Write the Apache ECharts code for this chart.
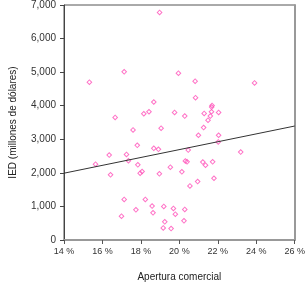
<!DOCTYPE html>
<html>
<head>
<meta charset="utf-8">
<script src="https://cdn.jsdelivr.net/npm/echarts@6/dist/echarts.min.js"></script>
<style>
  html, body { margin: 0; padding: 0; background: #fff; }
  #chart { width: 308px; height: 291px; }
</style>
</head>
<body>
<div id="chart"></div>
<script>
// apertura comercial (%)
var apertura = [15.32, 17.13, 18.97, 16.66, 18.15, 18.42, 18.67, 17.59, 19.05, 19.95,
    20.82, 23.91, 20.84, 19.75, 20.28, 21.70, 21.68, 21.67, 21.29, 22.04,
    21.61, 21.49, 21.26, 20.99, 22.04, 16.35, 17.25, 17.81, 18.67, 18.91,
    15.64, 17.35, 17.84, 16.42, 17.96, 18.06, 18.96, 17.13, 18.23, 18.58,
    18.63, 17.74, 16.99, 22.02, 20.46, 23.19, 20.31, 20.40, 21.22, 21.36,
    21.73, 19.53, 20.13, 21.80, 20.95, 20.55, 19.19, 19.69, 20.28, 19.79,
    19.24, 20.24, 19.16, 19.57];
// IED (millones de dólares)
var ied = [4700, 5010, 6780, 3650, 3760, 3820, 4110, 3280, 3330, 4970,
    4730, 4680, 4240, 3800, 3690, 4010, 3960, 3820, 3770, 3800,
    3690, 3570, 3350, 3120, 3120, 2530, 2550, 2820, 2730, 2700,
    2260, 2360, 2240, 1940, 1990, 2040, 1970, 1210, 1210, 1010,
    810, 900, 710, 2920, 2680, 2620, 2350, 2330, 2320, 2230,
    2330, 2170, 2030, 1840, 1740, 1610, 1000, 940, 910, 770,
    540, 570, 360, 340];
// línea de tendencia
var tendenciaX = [14, 26];
var tendenciaY = [1990, 3395];

var puntos = [];
for (var i = 0; i < apertura.length; i++) {
    puntos.push([apertura[i], ied[i]]);
}
var linea = [];
for (var j = 0; j < tendenciaX.length; j++) {
    linea.push([tendenciaX[j], tendenciaY[j]]);
}

// rombo hueco (anillo) dibujado como relleno
var rombo = 'path://M0,-3L3,0L0,3L-3,0Z M0,-1.6L-1.6,0L0,1.6L1.6,0Z';
var rosa = '#ff4fb8';
var chart = echarts.init(document.getElementById('chart'));
chart.setOption({
    animation: false,
    tooltip: { show: false },
    textStyle: { fontFamily: 'Liberation Sans, Arial, sans-serif' },
    grid: {
        left: 60, right: 11, top: 5, bottom: 51,
        show: true, borderColor: '#555', borderWidth: 1
    },
    xAxis: {
        type: 'value',
        min: 14, max: 26, interval: 2,
        name: 'Apertura comercial',
        nameLocation: 'middle',
        nameGap: 32,
        nameTextStyle: { fontSize: 10, color: '#222' },
        axisLine: { show: true, lineStyle: { color: '#999', width: 2 } },
        axisTick: { show: true, length: 4, lineStyle: { color: '#555' } },
        axisLabel: {
            fontSize: 9, color: '#333', margin: 7,
            formatter: function (v) { return v + ' %'; }
        },
        splitLine: { show: false }
    },
    yAxis: [{
        type: 'value',
        min: 0, max: 7000, interval: 1000,
        name: 'IED (millones de dólares)',
        nameLocation: 'middle',
        nameGap: 46,
        nameTextStyle: { fontSize: 10, color: '#222' },
        axisLine: { show: true, lineStyle: { color: '#444', width: 1 } },
        axisTick: { show: true, length: 4, lineStyle: { color: '#444' } },
        axisLabel: {
            fontSize: 10, color: '#333', margin: 8,
            formatter: function (v) { return v.toLocaleString('en-US'); }
        },
        splitLine: { show: false }
    }, {
        type: 'value',
        min: 0, max: 7000, interval: 1000,
        position: 'right',
        axisLine: { show: true, lineStyle: { color: '#999', width: 2 } },
        axisTick: { show: false },
        axisLabel: { show: false },
        splitLine: { show: false }
    }],
    series: [{
        type: 'scatter',
        data: puntos,
        symbol: rombo,
        symbolSize: 6,
        silent: true,
        emphasis: { disabled: true, scale: false },
        itemStyle: { color: rosa, borderWidth: 0 }
    }, {
        type: 'line',
        data: linea,
        showSymbol: false,
        silent: true,
        emphasis: { disabled: true },
        lineStyle: { color: '#333', width: 1 }
    }]
});
</script>
</body>
</html>
